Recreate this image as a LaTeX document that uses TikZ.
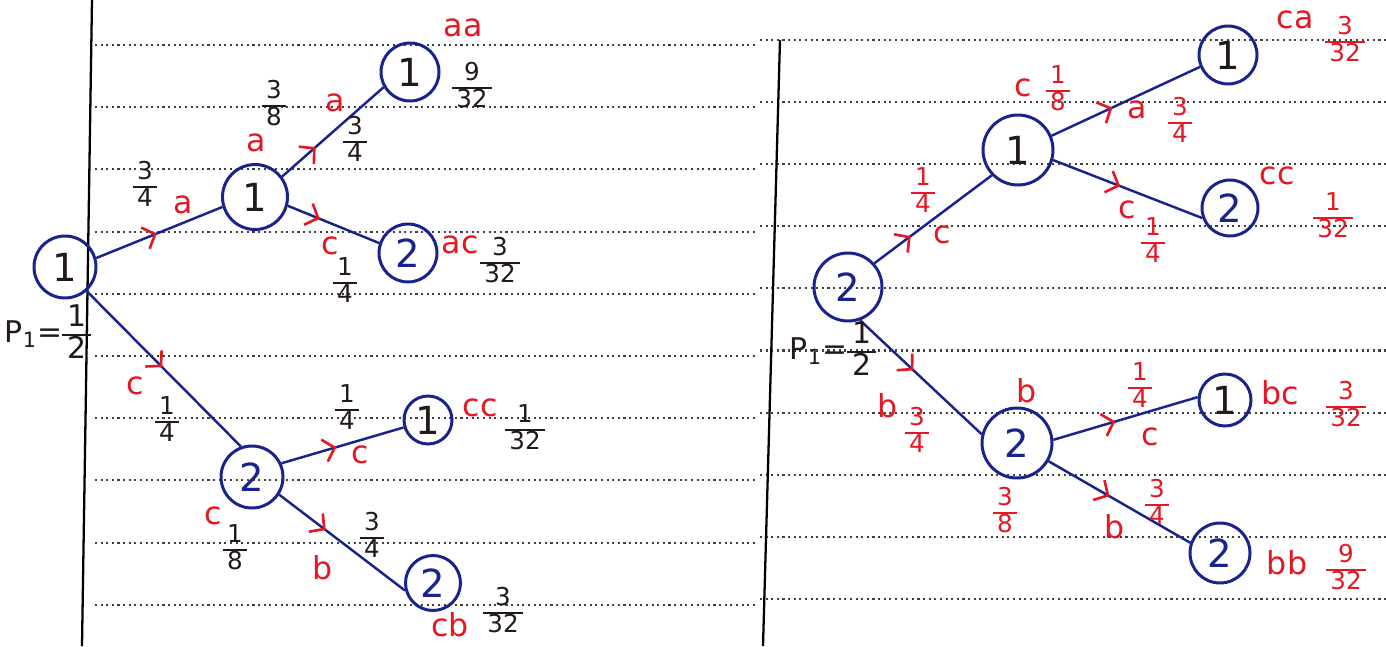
\documentclass[tikz,border=0pt]{standalone}
\usepackage{fontspec}
\setmainfont{DejaVu Sans}
\usetikzlibrary{decorations.markings, arrows.meta}
\definecolor{inkblue}{RGB}{25,35,140}
\definecolor{inkred}{RGB}{228,24,36}
\definecolor{inkblack}{RGB}{35,25,25}
\newcommand{\hfrac}[2]{{\setlength{\arrayrulewidth}{1.3pt}\renewcommand{\arraystretch}{0.82}\begin{tabular}{@{\,}c@{\,}}#1\\\hline #2\end{tabular}}}
\begin{document}
\begin{tikzpicture}[x=0.02cm, y=-0.02cm,
  nd/.style={circle, draw=inkblue, line width=1.7pt, inner sep=0pt, minimum size=#1, font=\fontsize{22}{22}\selectfont, text=inkblack},
  nd/.default=1.2cm,
  lbl/.style={inner sep=0pt, text=inkred, font=\fontsize{18}{18}\selectfont},
  frc/.style={inner sep=0pt, text=inkblack, font=\fontsize{14}{14}\selectfont},
  rfrc/.style={frc, text=inkred},
  edge/.style={draw=inkblue, line width=1.4pt},
  chev/.style={postaction={decorate, decoration={markings, mark=at position #1 with {\arrow[inkred, line width=1.5pt]{Straight Barb[length=6pt, width=13pt]}}}}},
  vrule/.style={line width=1.3pt, black},
  ruling/.style={black!75, line width=1.2pt, dash pattern=on 1.2pt off 2pt}]
\fill[white] (0,0) rectangle (1386,646);
\useasboundingbox (0,0) rectangle (1386,646);
% ruled paper
\foreach \k in {0,...,9}{
  \draw[ruling] (95,{45+62.2*\k}) -- (757,{45+62.2*\k});
  \draw[ruling] (760,{40+62.1*\k}) -- (1386,{40+62.1*\k});
}
\draw[vrule] (92,0) -- (82,646);
\draw[vrule] (780,40) -- (763,646);

% ---------- left tree ----------
\node[nd=1.24cm] (L0) at (65,267) {1};
\node[nd=1.3cm] (LA) at (255,197) {1};
\node[nd=1.16cm] (LAA) at (410,72) {1};
\node[nd=1.16cm, text=inkblue] (LAC) at (408,253) {2};
\node[nd=1.24cm, text=inkblue] (LC) at (252,477) {2};
\node[nd=0.96cm] (LCC) at (428,420) {1};
\node[nd=1.1cm, text=inkblue] (LCB) at (433,583) {2};

\draw[edge, chev=0.48] (L0.16) -- (LA.-163);
\draw[edge, chev=0.49] (L0.-48) -- (LC.110);
\draw[edge, chev=0.33] (LA.37) -- (LAA.-150);
\draw[edge, chev=0.35] (LA.-15) -- (LAC.161);
\draw[edge, chev=0.45] (LC.25) -- (LCC.-163);
\draw[edge, chev=0.37] (LC.-33) -- (LCB.-165);

\node[frc] (f1) at (145,187) {\hfrac{3}{4}};
\node[lbl] (l1) at (183,205) {a};
\node[lbl] (l2) at (256,143) {a};
\node[frc] (f2) at (274,106) {\hfrac{3}{8}};
\node[lbl] (l3) at (335,103) {a};
\node[frc] (f3) at (355,142) {\hfrac{3}{4}};
\node[lbl] (l4) at (463,28) {aa};
\node[frc] (f4) at (472,88) {\hfrac{9}{32}};
\node[lbl] (l5) at (330,246) {c};
\node[frc] (f5) at (345,283) {\hfrac{1}{4}};
\node[lbl] (l6) at (460,245) {ac};
\node[frc] (f6) at (500,263) {\hfrac{3}{32}};
\node[frc, font=\fontsize{17}{17}\selectfont] (p1) at (48,335) {P\textsubscript{1}=\hfrac{1}{2}};
\node[lbl] (l7) at (135,386) {c};
\node[frc] (f7) at (167,422) {\hfrac{1}{4}};
\node[lbl] (l8) at (213,516) {c};
\node[frc] (f8) at (235,550) {\hfrac{1}{8}};
\node[frc] (f9) at (347,410) {\hfrac{1}{4}};
\node[lbl] (l9) at (360,455) {c};
\node[lbl] (l10) at (480,408) {cc};
\node[frc] (f10) at (525,430) {\hfrac{1}{32}};
\node[frc] (f11) at (372,538) {\hfrac{3}{4}};
\node[lbl] (l11) at (323,568) {b};
\node[lbl] (l12) at (450,625) {cb};
\node[frc] (f12) at (503,613) {\hfrac{3}{32}};

% ---------- right tree ----------
\node[nd=1.36cm, text=inkblue] (R0) at (848,287) {2};
\node[nd=1.4cm] (RC) at (1018,150) {1};
\node[nd=1.16cm] (RCA) at (1228,55) {1};
\node[nd=1.12cm, text=inkblue] (RCC) at (1230,208) {2};
\node[nd=1.4cm, text=inkblue] (RB) at (1017,443) {2};
\node[nd=1.04cm] (RBC) at (1225,400) {1};
\node[nd=1.2cm, text=inkblue] (RBB) at (1220,553) {2};

\draw[edge, chev=0.31] (R0.42) -- (RC.-136);
\draw[edge, chev=0.44] (R0.-70) -- (RB.166);
\draw[edge, chev=0.41] (RC.23) -- (RCA.-157);
\draw[edge, chev=0.45] (RC.-16) -- (RCC.-160);
\draw[edge, chev=0.43] (RB.5) -- (RBC.174);
\draw[edge, chev=0.43] (RB.-30) -- (RBB.161);

\node[rfrc] (f13) at (923,193) {\hfrac{1}{4}};
\node[lbl] (l13) at (942,235) {c};
\node[lbl] (l14) at (1023,88) {c};
\node[rfrc] (f14) at (1058,91) {\hfrac{1}{8}};
\node[lbl] (l15) at (1137,110) {a};
\node[rfrc] (f15) at (1180,123) {\hfrac{3}{4}};
\node[lbl] (l16) at (1295,20) {ca};
\node[rfrc] (f16) at (1345,42) {\hfrac{3}{32}};
\node[lbl] (l17) at (1127,210) {c};
\node[rfrc] (f17) at (1153,243) {\hfrac{1}{4}};
\node[lbl] (l18) at (1277,176) {cc};
\node[rfrc] (f18) at (1333,218) {\hfrac{1}{32}};
\node[frc, font=\fontsize{17}{17}\selectfont] (p2) at (833,352) {P\textsubscript{1}=\hfrac{1}{2}};
\node[lbl] (l19) at (888,406) {b};
\node[rfrc] (f19) at (917,433) {\hfrac{3}{4}};
\node[lbl] (l20) at (1027,391) {b};
\node[rfrc] (f20) at (1005,513) {\hfrac{3}{8}};
\node[rfrc] (f21) at (1140,388) {\hfrac{1}{4}};
\node[lbl] (l21) at (1150,437) {c};
\node[lbl] (l22) at (1280,393) {bc};
\node[rfrc] (f22) at (1346,407) {\hfrac{3}{32}};
\node[rfrc] (f23) at (1157,505) {\hfrac{3}{4}};
\node[lbl] (l23) at (1115,527) {b};
\node[lbl] (l24) at (1287,563) {bb};
\node[rfrc] (f24) at (1346,570) {\hfrac{9}{32}};
\end{tikzpicture}
\end{document}
